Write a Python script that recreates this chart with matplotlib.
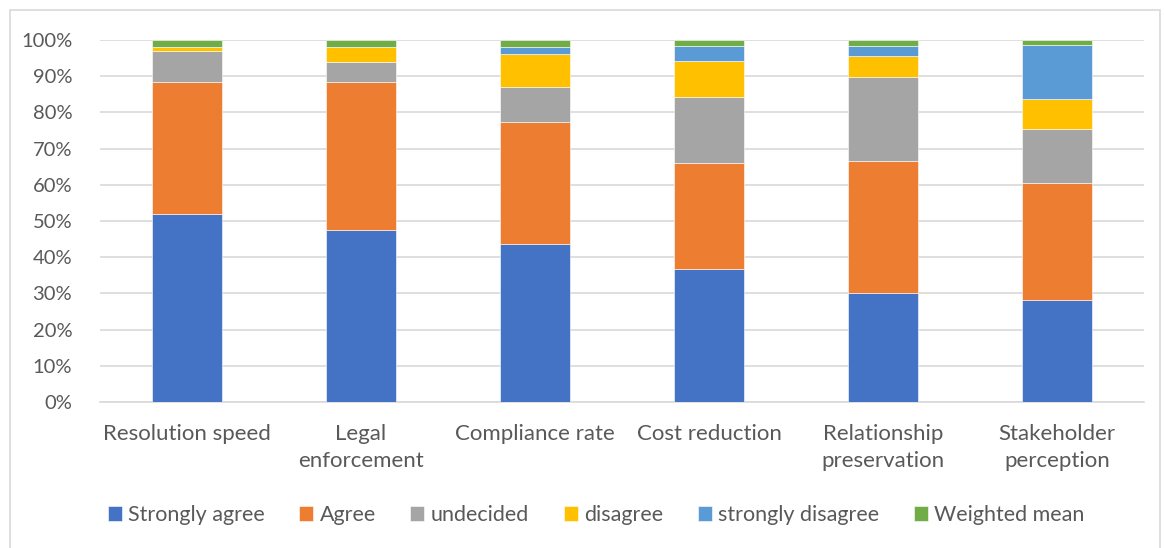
import numpy as np
import matplotlib
matplotlib.use("Agg")
import matplotlib.pyplot as plt
from matplotlib.patches import Rectangle
from matplotlib.ticker import PercentFormatter

plt.rcParams['font.family'] = ['Lato', 'DejaVu Sans']

categories = ["Resolution speed", "Legal\nenforcement", "Compliance rate",
              "Cost reduction", "Relationship\npreservation", "Stakeholder\nperception"]
series_names = ["Strongly agree", "Agree", "undecided", "disagree",
                "strongly disagree", "Weighted mean"]

# share of responses, percent
strongly_agree = [51.9, 47.6, 43.6, 36.7, 30.0, 28.3]
agree = [36.4, 40.7, 33.7, 29.4, 36.5, 32.2]
undecided = [8.6, 5.7, 9.7, 18.2, 23.4, 14.8]
disagree = [1.2, 4.1, 9.1, 9.9, 5.7, 8.5]
strongly_disagree = [0.0, 0.0, 2.0, 4.1, 2.8, 14.7]
weighted_mean = [1.9, 1.9, 1.9, 1.7, 1.6, 1.5]

colors = ["#4472C4", "#ED7D31", "#A5A5A5", "#FFC000", "#5B9BD5", "#70AD47"]

data = np.array([strongly_agree, agree, undecided, disagree,
                 strongly_disagree, weighted_mean])
data = data / data.sum(axis=0)

fig = plt.figure(figsize=(11.64, 5.48), dpi=100)
ax = fig.add_axes([100/1164, (548-402)/548, 1044/1164, 362/548])

x = np.arange(len(categories))
bottom = np.zeros(len(categories))
for vals, name, col in zip(data, series_names, colors):
    ax.bar(x, vals, width=0.4, bottom=bottom, color=col, label=name,
           edgecolor="white", linewidth=0.4, zorder=3)
    bottom += vals

ax.set_xlim(-0.5, len(categories) - 0.5)
ax.set_ylim(0, 1)
ax.set_yticks(np.arange(0, 1.01, 0.1))
ax.yaxis.set_major_formatter(PercentFormatter(1.0, decimals=0))
ax.set_xticks(x)
ax.set_xticklabels(categories, fontsize=16, color="#595959", linespacing=1.45)
ax.tick_params(axis="y", labelsize=14.5, labelcolor="#595959", length=0, pad=20)
ax.tick_params(axis="x", length=0, pad=16)
ax.grid(axis="y", color="#D9D9D9", linewidth=1.2, zorder=0)
for s in ["top", "right", "left"]:
    ax.spines[s].set_visible(False)
ax.spines["bottom"].set_color("#D9D9D9")
ax.spines["bottom"].set_linewidth(1.2)

fig.legend(loc="center", bbox_to_anchor=(596/1164, 1 - 515/548), ncol=6,
           frameon=False, fontsize=15.5, handlelength=0.65, handleheight=0.65,
           handletextpad=0.3, columnspacing=1.6, labelcolor="#595959")

fig.patches.append(Rectangle((10/1164, -0.05), 1150/1164, 1.05 - 10/548,
                             transform=fig.transFigure, fill=False,
                             edgecolor="#D9D9D9", linewidth=1.2))

fig.savefig("out.png", dpi=100, facecolor="white")
